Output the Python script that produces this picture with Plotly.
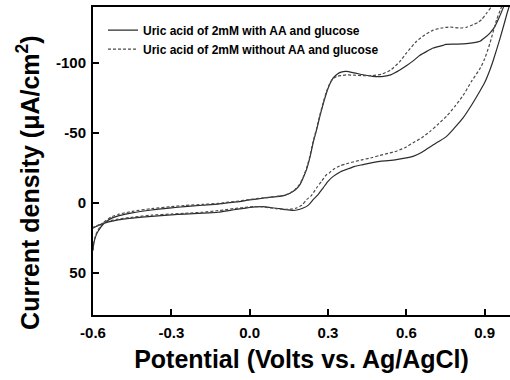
import plotly.graph_objects as go

# Cyclic voltammograms of 2 mM uric acid (potential in V vs. Ag/AgCl, current density in uA/cm^2)

# --- with AA and glucose (solid) ---
with_fwd_v = [-0.600, -0.597, -0.590, -0.580, -0.560, -0.530, -0.500, -0.450, -0.376, -0.300,
              -0.249, -0.180, -0.121, -0.100, -0.050, 0.000, 0.050, 0.100, 0.134, 0.154,
              0.175, 0.192, 0.205, 0.218, 0.230, 0.243, 0.256, 0.269, 0.282, 0.294,
              0.307, 0.320, 0.335, 0.350, 0.370, 0.400, 0.434, 0.470, 0.505, 0.540,
              0.575, 0.600, 0.626, 0.652, 0.680, 0.703, 0.741, 0.750, 0.790, 0.830,
              0.860, 0.882, 0.900, 0.920, 0.939, 0.952, 0.970, 0.985]
with_fwd_i = [34, 29, 24, 20, 15, 11, 9, 7, 5, 3.5,
              2.6, 1.6, 0.8, 0.2, -0.8, -2.2, -3.4, -4.5, -5.5, -7.0,
              -9.5, -13, -18, -24, -32, -43, -52, -62, -71, -78.6,
              -85, -89.3, -92, -93.5, -94, -93, -91.6, -90.5, -90.3, -91.5,
              -95, -98, -101.5, -105.5, -108.5, -110.7, -112.6, -113.3, -113.5, -113.8,
              -114.5, -115.5, -118, -121.4, -126, -131, -139, -147]
with_rev_v = [1.000, 0.985, 0.958, 0.933, 0.920, 0.900, 0.882, 0.850, 0.818, 0.786,
              0.754, 0.720, 0.690, 0.658, 0.626, 0.594, 0.562, 0.530, 0.498, 0.470,
              0.434, 0.400, 0.371, 0.345, 0.320, 0.300, 0.281, 0.262, 0.243, 0.225,
              0.205, 0.185, 0.166, 0.140, 0.115, 0.080, 0.051, 0.020, 0.000, -0.030,
              -0.060, -0.100, -0.121, -0.180, -0.249, -0.300, -0.376, -0.450, -0.504, -0.540,
              -0.570, -0.590, -0.600]
with_rev_i = [-146, -135, -117, -102, -95, -86, -80, -70, -61, -54,
              -47.6, -43.5, -40, -36, -33.3, -32, -31, -30.3, -29.7, -28.8,
              -27.4, -26, -24, -22, -19, -15.5, -10.7, -6, -2.4, 1.5,
              3.6, 4.8, 5.2, 4.8, 4.0, 3.2, 2.6, 2.8, 3.2, 4.0,
              4.8, 6.0, 6.6, 7.3, 7.9, 8.5, 9.5, 10.8, 12, 13.5,
              15.3, 17, 18]

# --- without AA and glucose (dashed) ---
without_fwd_v = [-0.600, -0.597, -0.590, -0.580, -0.560, -0.530, -0.500, -0.450, -0.376, -0.300,
                 -0.249, -0.180, -0.121, -0.100, -0.050, 0.000, 0.050, 0.100, 0.134, 0.154,
                 0.175, 0.192, 0.205, 0.218, 0.230, 0.243, 0.256, 0.269, 0.282, 0.294,
                 0.307, 0.320, 0.335, 0.350, 0.370, 0.400, 0.434, 0.470, 0.505, 0.540,
                 0.575, 0.600, 0.639, 0.670, 0.703, 0.735, 0.767, 0.805, 0.830, 0.856,
                 0.875, 0.888, 0.905, 0.925, 0.945]
without_fwd_i = [33, 28, 23, 19, 14, 10, 8, 6, 4, 2.6,
                 1.8, 1.0, 0.3, -0.2, -1.2, -2.5, -3.6, -4.6, -5.6, -7.0,
                 -9.8, -13.5, -18.5, -25, -33, -44, -53, -63, -72, -79.5,
                 -85.5, -89, -90.5, -91, -91.5, -91.3, -91, -91, -92, -95,
                 -101, -107, -115.5, -120, -123.5, -125, -125.7, -125, -125.5, -127.4,
                 -129, -131, -135, -140, -146]
without_rev_v = [0.975, 0.960, 0.946, 0.920, 0.900, 0.882, 0.850, 0.818, 0.786, 0.754,
                 0.720, 0.690, 0.658, 0.626, 0.594, 0.562, 0.530, 0.498, 0.470, 0.434,
                 0.400, 0.370, 0.345, 0.320, 0.305, 0.294, 0.275, 0.256, 0.237, 0.218,
                 0.200, 0.179, 0.154, 0.130, 0.100, 0.051, 0.020, 0.000, -0.030, -0.060,
                 -0.100, -0.121, -0.180, -0.249, -0.300, -0.376, -0.450, -0.504, -0.540, -0.570,
                 -0.590, -0.600]
without_rev_i = [-146, -138, -131, -114, -103, -96, -87, -77, -69, -62,
                 -56, -51, -46.5, -43, -39.5, -37, -35.5, -34, -32.5, -31,
                 -29.5, -28, -26.5, -24, -21.5, -20.2, -15.5, -10.7, -5.5, -2.4,
                 1.5, 3.6, 4.6, 4.5, 4.0, 2.8, 2.6, 2.8, 3.4, 4.0,
                 5.0, 5.5, 6.6, 7.4, 7.9, 8.7, 10.2, 11.5, 13, 15,
                 16.7, 17.5]

series_names = ["Uric acid of 2mM with AA and glucose",
                "Uric acid of 2mM without AA and glucose"]

x_ticks = [-0.6, -0.3, 0.0, 0.3, 0.6, 0.9]
x_tick_text = ["-0.6", "-0.3", "0.0", "0.3", "0.6", "0.9"]
y_ticks = [-100, -50, 0, 50]
y_tick_text = ["-100", "-50", "0", "50"]

x_title = "Potential (Volts vs. Ag/AgCl)"
y_title = "Current density (\u03bcA/cm<sup>2</sup>)"

FONT = "Liberation Sans, Arial, sans-serif"

fig = go.Figure()
fig.add_trace(go.Scatter(
    x=with_fwd_v + with_rev_v, y=with_fwd_i + with_rev_i,
    mode="lines", name=series_names[0],
    line=dict(color="#2b2b2b", width=1.2, shape="spline", smoothing=0.6),
))
fig.add_trace(go.Scatter(
    x=without_fwd_v + without_rev_v, y=without_fwd_i + without_rev_i,
    mode="lines", name=series_names[1],
    line=dict(color="#4a4a4a", width=1.2, dash="3px,2px", shape="spline", smoothing=0.6),
))

# y-axis title placed as a rotated annotation, sitting slightly below the plot centre
fig.add_annotation(
    text=y_title, textangle=-90,
    xref="paper", yref="paper", x=-0.156, y=0.432,
    xanchor="center", yanchor="middle", showarrow=False,
    font=dict(family=FONT, size=25, color="black", weight="bold"),
)

fig.update_layout(
    width=510, height=380,
    margin=dict(l=93, r=0, t=7, b=65),
    paper_bgcolor="white", plot_bgcolor="white",
    font=dict(family=FONT, color="black", weight="bold"),
    showlegend=True,
    legend=dict(
        x=0.024, y=0.972, xanchor="left", yanchor="top",
        bgcolor="rgba(0,0,0,0)", borderwidth=0,
        font=dict(family=FONT, size=12, color="black", weight="bold"),
    ),
    xaxis=dict(
        range=[-0.6, 0.997],
        tickvals=x_ticks, ticktext=x_tick_text,
        ticks="inside", ticklen=6, tickwidth=1.5, tickcolor="black",
        showline=True, linecolor="black", linewidth=2, mirror=True,
        showgrid=False, zeroline=False, ticklabelstandoff=3,
        tickfont=dict(family=FONT, size=15, color="black", weight="bold"),
        title=dict(text=x_title, standoff=10,
                   font=dict(family=FONT, size=25, color="black", weight="bold")),
    ),
    yaxis=dict(
        range=[80, -140],
        tickvals=y_ticks, ticktext=y_tick_text,
        ticks="inside", ticklen=6, tickwidth=1.5, tickcolor="black",
        showline=True, linecolor="black", linewidth=2, mirror=False,
        showgrid=False, zeroline=False, ticklabelstandoff=2,
        tickfont=dict(family=FONT, size=15, color="black", weight="bold"),
    ),
)

fig.write_html("out.html")
